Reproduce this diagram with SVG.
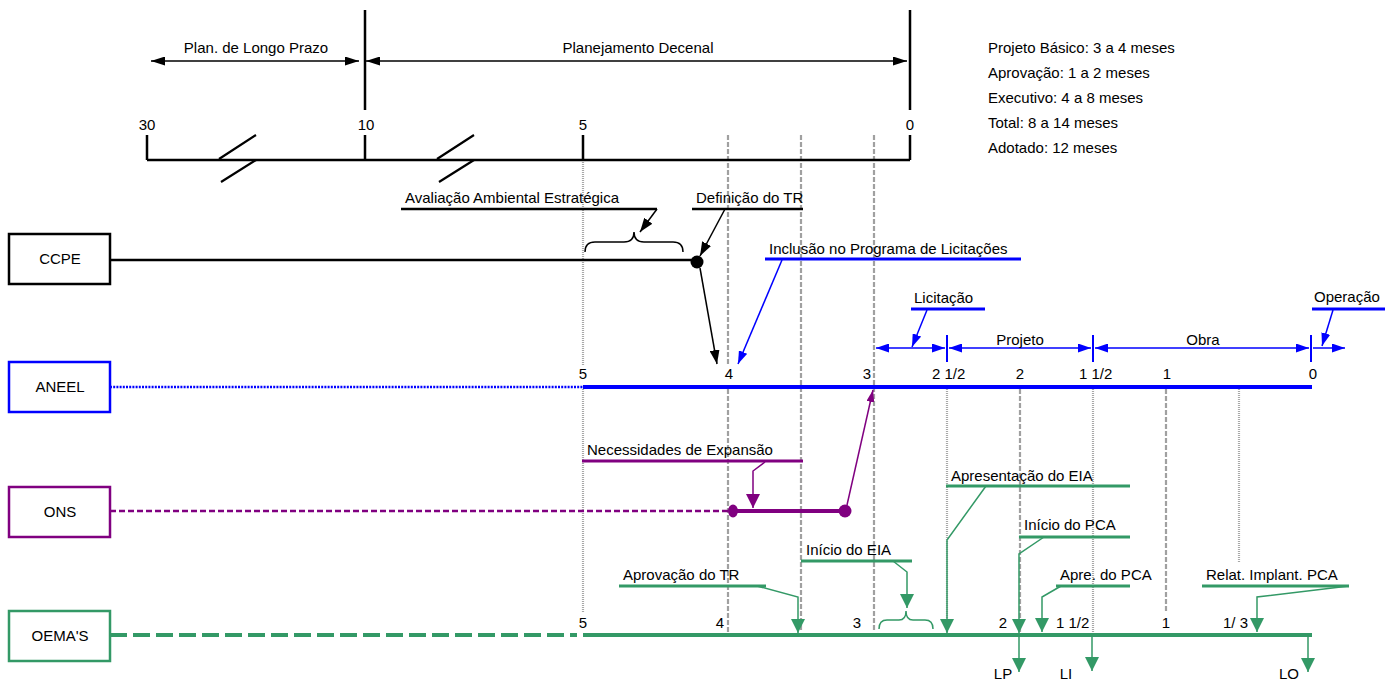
<svg xmlns="http://www.w3.org/2000/svg" width="1398" height="681" viewBox="0 0 1398 681">
<style>
text{font-family:"Liberation Sans",Arial,sans-serif;font-size:15px;fill:#000}
.c{text-anchor:middle}
.box{fill:#fff;stroke-width:2.5}
.k{stroke:#000;fill:none}
.b{stroke:#0000ff;fill:none}
.p{stroke:#800080;fill:none}
.g{stroke:#339966;fill:none}
.dash{stroke:#a0a0a0;stroke-width:2.2;stroke-dasharray:5 2;fill:none}
.dot{stroke:#a8a8a8;stroke-width:2.2;stroke-dasharray:1 1;fill:none}
.ul{stroke-width:3}
.ld{stroke-width:1.5}
</style>
<defs>
<marker id="ak" viewBox="0 0 14 10" refX="14" refY="5" markerWidth="14" markerHeight="10" markerUnits="userSpaceOnUse" orient="auto-start-reverse"><path d="M0,0 L14,5 L0,10 z" fill="#000"/></marker>
<marker id="ak2" viewBox="0 0 14 9" refX="14" refY="4.5" markerWidth="14" markerHeight="9" markerUnits="userSpaceOnUse" orient="auto-start-reverse"><path d="M0,0 L14,4.5 L0,9 z" fill="#000"/></marker>
<marker id="ab" viewBox="0 0 13 9" refX="13" refY="4.5" markerWidth="13" markerHeight="9" markerUnits="userSpaceOnUse" orient="auto-start-reverse"><path d="M0,0 L13,4.5 L0,9 z" fill="#0000ff"/></marker>
<marker id="ap" viewBox="0 0 14 14" refX="14" refY="7" markerWidth="14" markerHeight="14" markerUnits="userSpaceOnUse" orient="auto"><path d="M0,0 L14,7 L0,14 z" fill="#800080"/></marker>
<marker id="ap2" viewBox="0 0 12 8" refX="12" refY="4" markerWidth="12" markerHeight="8" markerUnits="userSpaceOnUse" orient="auto"><path d="M0,0 L12,4 L0,8 z" fill="#800080"/></marker>
<marker id="ag" viewBox="0 0 14 14" refX="14" refY="7" markerWidth="14" markerHeight="14" markerUnits="userSpaceOnUse" orient="auto"><path d="M0,0 L14,7 L0,14 z" fill="#339966"/></marker>
</defs>

<!-- grid lines -->
<g id="grid">
<path class="dot" d="M583,160 V365 M583,389 V612"/>
<path class="dash" d="M728,135 V364 M728,389 V632"/>
<path class="dash" d="M801,135 V632"/>
<path class="dash" d="M874,135 V632"/>
<path class="dot" d="M947,389 V632"/>
<path class="dash" d="M1020,389 V632"/>
<path class="dot" d="M1093,389 V632"/>
<path class="dash" d="M1166,389 V612"/>
<path class="dot" d="M1239,389 V562"/>
</g>

<!-- top timeline -->
<g id="timeline">
<path class="k" stroke-width="2.5" d="M365,10 V110 M910,10 V110"/>
<path class="k" stroke-width="1.5" d="M151,61 H359" marker-start="url(#ak2)" marker-end="url(#ak2)"/>
<path class="k" stroke-width="1.5" d="M366,61 H907" marker-start="url(#ak2)" marker-end="url(#ak2)"/>
<text x="256" y="53" class="c">Plan. de Longo Prazo</text>
<text x="638" y="53" class="c">Planejamento Decenal</text>
<path class="k" stroke-width="2.5" d="M147,160 H910 M147,135 V160 M365,135 V160 M583,135 V160 M910,135 V160"/>
<path class="k" stroke-width="2.2" d="M219,159 L256,135 M221,182 L256,160 M437,159 L474,135 M439,182 L474,160"/>
<text x="147" y="130" class="c">30</text>
<text x="366" y="130" class="c">10</text>
<text x="583" y="130" class="c">5</text>
<text x="910" y="130" class="c">0</text>
</g>

<g id="notes">
<text x="988" y="53">Projeto Básico: 3 a 4 meses</text>
<text x="988" y="78">Aprovação: 1 a 2 meses</text>
<text x="988" y="103">Executivo: 4 a 8 meses</text>
<text x="988" y="128">Total: 8 a 14 meses</text>
<text x="988" y="153">Adotado: 12 meses</text>
</g>

<!-- nodes -->
<g id="ccpe">
<rect class="box" x="9" y="234" width="101" height="50" stroke="#000"/>
<text x="60" y="264" class="c">CCPE</text>
</g>
<g id="aneel">
<rect class="box" x="9" y="362" width="101" height="50" stroke="#0000ff"/>
<text x="60" y="392" class="c">ANEEL</text>
</g>
<g id="ons">
<rect class="box" x="9" y="487" width="101" height="50" stroke="#800080"/>
<text x="60" y="517" class="c">ONS</text>
</g>
<g id="oemas">
<rect class="box" x="9" y="611" width="101" height="50" stroke="#339966"/>
<text x="60" y="641" class="c">OEMA'S</text>
</g>

<!-- connectors -->
<g id="connectors">
<!-- CCPE -->
<path class="k" stroke-width="2.5" d="M110,260 H697"/>
<circle cx="697" cy="262" r="6.5" fill="#000"/>
<path class="k" stroke-width="1.5" d="M585,252 Q585,242 595,242 H624 Q634,242 634,232 Q634,242 644,242 H673 Q683,242 683,252"/>
<path class="k" stroke-width="1.5" d="M657,209 L640,232" marker-end="url(#ak)"/>
<path class="k" stroke-width="1.5" d="M725,209 L700,256" marker-end="url(#ak)"/>
<path class="k" stroke-width="1.5" d="M700,268 L717,364" marker-end="url(#ak)"/>
<!-- ANEEL -->
<path class="b" stroke-width="2.5" stroke-dasharray="2 1.2" d="M110,387 H583"/>
<path class="b" stroke-width="4" d="M583,387 H1312"/>
<path class="b ld" d="M782,260 L738,364" marker-end="url(#ab)"/>
<path class="b ld" d="M927,310 L912,347" marker-end="url(#ab)"/>
<path class="b ld" d="M1333,310 L1322,346" marker-end="url(#ab)"/>
<path class="b ld" d="M876,348 H945" marker-start="url(#ab)" marker-end="url(#ab)"/>
<path class="b ld" d="M949,348 H1091" marker-start="url(#ab)" marker-end="url(#ab)"/>
<path class="b ld" d="M1095,348 H1309" marker-start="url(#ab)" marker-end="url(#ab)"/>
<path class="b ld" d="M1313,348 H1345" marker-end="url(#ab)"/>
<path class="b" stroke-width="2" d="M947,335 V362 M1093,335 V362 M1311,335 V362"/>
<!-- ONS -->
<path class="p" stroke-width="2.5" stroke-dasharray="6 3" d="M110,511 H733"/>
<path class="p" stroke-width="4" d="M733,511 H845"/>
<ellipse cx="733" cy="511" rx="5" ry="6.5" fill="#800080"/>
<circle cx="845" cy="511" r="6.5" fill="#800080"/>
<path class="p ld" d="M765,462 L753,471 V508" marker-end="url(#ap)"/>
<path class="p ld" d="M847,505 L873,390" marker-end="url(#ap2)"/>
<!-- OEMA'S -->
<path class="g" stroke-width="4" stroke-dasharray="17 6" d="M110,635 H577"/>
<path class="g" stroke-width="4" d="M583,635 H1312"/>
<path class="g ld" d="M757,586 L798,597 V633" marker-end="url(#ag)"/>
<path class="g ld" d="M893,561 L907,572 V608" marker-end="url(#ag)"/>
<path class="g ld" d="M879,629 Q879,620 887,620 H899 Q906,620 906,611 Q906,620 913,620 H925 Q933,620 933,629"/>
<path class="g ld" d="M986,486 L947,540 V633" marker-end="url(#ag)"/>
<path class="g ld" d="M1044,537 L1019,554 V633" marker-end="url(#ag)"/>
<path class="g ld" d="M1061,586 L1042,597 V632" marker-end="url(#ag)"/>
<path class="g ld" d="M1349,586 L1257,597 V632" marker-end="url(#ag)"/>
<path class="g ld" d="M1019,635 V672" marker-end="url(#ag)"/>
<path class="g ld" d="M1092,635 V671" marker-end="url(#ag)"/>
<path class="g ld" d="M1308,635 V672" marker-end="url(#ag)"/>
</g>

<!-- labels -->
<g id="labels">
<text x="405" y="203">Avaliação Ambiental Estratégica</text>
<path class="k" stroke-width="2.5" d="M401,209 H657"/>
<text x="696" y="203">Definição do TR</text>
<path class="k" stroke-width="2.5" d="M692,209 H803"/>
<text x="769" y="254">Inclusão no Programa de Licitações</text>
<path class="b ul" d="M765,259 H1021"/>
<text x="914" y="303">Licitação</text>
<path class="b ul" d="M911,309 H985"/>
<text x="1314" y="302">Operação</text>
<path class="b ul" d="M1312,309 H1385"/>
<text x="1020" y="345" class="c">Projeto</text>
<text x="1203" y="345" class="c">Obra</text>
<text x="583" y="379" class="c">5</text>
<text x="729" y="379" class="c">4</text>
<text x="867" y="379" class="c">3</text>
<text x="932" y="379">2 1/2</text>
<text x="1020" y="379" class="c">2</text>
<text x="1079" y="379">1 1/2</text>
<text x="1167" y="379" class="c">1</text>
<text x="1313" y="379" class="c">0</text>
<text x="587" y="455">Necessidades de Expansão</text>
<path class="p ul" d="M582,461 H803"/>
<text x="623" y="580">Aprovação do TR</text>
<path class="g ul" d="M619,586 H766"/>
<text x="806" y="555">Início do EIA</text>
<path class="g ul" d="M801,561 H912"/>
<text x="951" y="481">Apresentação do EIA</text>
<path class="g ul" d="M946,486 H1130"/>
<text x="1024" y="530">Início do PCA</text>
<path class="g ul" d="M1019,537 H1130"/>
<text x="1060" y="580">Apre. do PCA</text>
<path class="g ul" d="M1056,586 H1130"/>
<text x="1206" y="580">Relat. Implant. PCA</text>
<path class="g ul" d="M1202,586 H1349"/>
<text x="583" y="628" class="c">5</text>
<text x="720" y="628" class="c">4</text>
<text x="857" y="628" class="c">3</text>
<text x="1003" y="628" class="c">2</text>
<text x="1056" y="628">1 1/2</text>
<text x="1166" y="628" class="c">1</text>
<text x="1223" y="628">1/ 3</text>
<text x="1003" y="679" class="c">LP</text>
<text x="1066" y="679" class="c">LI</text>
<text x="1289" y="679" class="c">LO</text>
</g>
</svg>
